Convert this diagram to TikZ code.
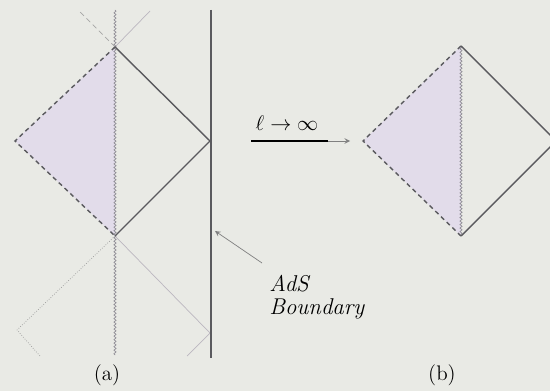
\documentclass[tikz,border=0pt]{standalone}
\usetikzlibrary{decorations.pathmorphing,arrows.meta}
\definecolor{paper}{HTML}{E9EAE5}
\definecolor{lav}{HTML}{E2DCEA}
\definecolor{edge}{HTML}{5A5A5E}
\begin{document}
\begin{tikzpicture}[x=0.02cm,y=-0.02cm,>=stealth,font=\small,
  hor/.style={thick,edge},
  dashhor/.style={thick,edge,dash pattern=on 2.5pt off 2pt},
  sing/.style={edge!60!lav,decorate,decoration={snake,amplitude=0.6pt,segment length=2pt}},
  faint/.style={thin,lav!60!gray}]
\fill[paper] (0,0) rectangle (550,391);
\clip (0,0) rectangle (550,391);
% (a)
\coordinate (at) at (115,47);
\coordinate (ab) at (115,236);
\coordinate (al) at (15,141);
\coordinate (ar) at (210,141);
\fill[lav] (at)--(al)--(ab)--cycle;
\draw[faint,densely dashed,gray!70] (at)--(78,10);
\draw[faint] (at)--(150,11);
\draw[faint,densely dotted,gray!80] (ab)--(17,330)--(40,356);
\draw[faint] (ab)--(210,333)--(187,356);
\draw[sing] (115,10)--(115,355);
\draw[dashhor] (at)--(al)--(ab);
\draw[hor] (at)--(ar)--(ab);
\draw[very thick,edge] (211,10)--(211,358);
\draw[->,faint,gray] (262,263)--(215,231);
\node[anchor=north west,align=left,font=\itshape\fontsize{13}{13}\selectfont,inner sep=0pt] (bdy) at (269,275) {AdS\\Boundary};
\node[font=\large] (la) at (107,375) {(a)};
% limit
\draw[thick] (251,141)--(328,141);
\draw[->,faint,gray] (328,141)--(350,141);
\node[font=\large] (lim) at (287,123) {$\ell\to\infty$};
% (b)
\coordinate (bt) at (461,46);
\coordinate (bb) at (461,236);
\coordinate (bl) at (363,141);
\coordinate (br) at (556,141);
\fill[lav] (bt)--(bl)--(bb)--cycle;
\draw[sing] (bt)--(bb);
\draw[dashhor] (bt)--(bl)--(bb);
\draw[hor] (bt)--(br)--(bb);
\node[font=\large] (lb) at (442,375) {(b)};
\end{tikzpicture}
\end{document}
